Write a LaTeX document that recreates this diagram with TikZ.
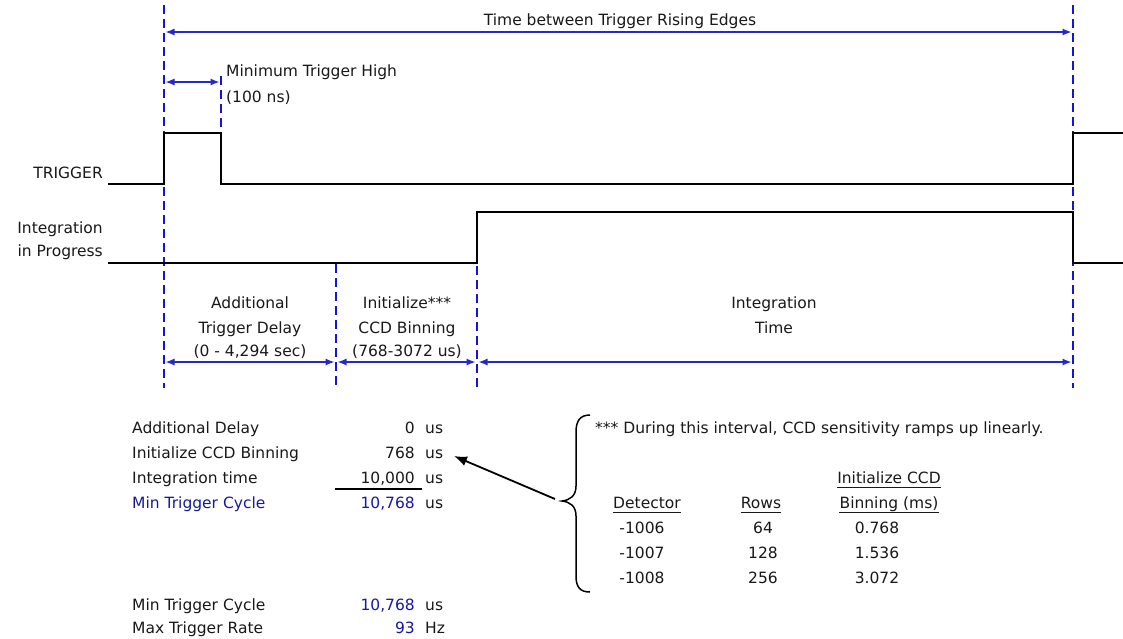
\documentclass[tikz,border=0pt]{standalone}
\usepackage{fontspec}
\setmainfont{DejaVu Sans}
\usetikzlibrary{arrows.meta}
\definecolor{dashblue}{RGB}{20,20,215}
\definecolor{dimblue}{RGB}{40,40,200}
\definecolor{txtblue}{RGB}{25,25,160}
\newcommand{\myfs}{\fontsize{15.5}{18}\selectfont}
\begin{document}
\begin{tikzpicture}[x=1pt,y=-1pt,
  sig/.style={line width=2.7pt, black, line join=miter},
  vdash/.style={dashblue, line width=2.8pt, dash pattern=on 9pt off 5pt},
  dimarrow/.style={dimblue, line width=1.3pt, shorten <=1.5pt, shorten >=1.5pt,
    {Latex[length=9pt,width=7pt]}-{Latex[length=9pt,width=7pt]}},
  lbl/.style={inner sep=0pt, anchor=base, font=\myfs, text=black!90},
  lblw/.style={lbl, anchor=base west},
  lble/.style={lbl, anchor=base east},
  bluet/.style={text=txtblue},
  ul/.style={black!90, line width=1pt}]
\useasboundingbox (0,0) rectangle (1123,638);
\fill[white] (0,0) rectangle (1123,638);

% dashed markers
\coordinate (d1t) at (164,5);   \coordinate (d1b) at (164,388);
\coordinate (d2t) at (221,76);  \coordinate (d2b) at (221,133);
\coordinate (d3t) at (336,264); \coordinate (d3b) at (336,388);
\coordinate (d4t) at (477,266); \coordinate (d4b) at (477,388);
\coordinate (d5t) at (1073,5);  \coordinate (d5b) at (1073,388);
\draw[vdash] (d1t) -- (d1b);
\draw[vdash] (d2t) -- (d2b);
\draw[vdash] (d3t) -- (d3b);
\draw[vdash] (d4t) -- (d4b);
\draw[vdash] (d5t) -- (d5b);

% signals
\coordinate (trs) at (108,184);
\coordinate (tre) at (1123,133);
\draw[sig] (trs) -- (164,184) -- (164,133) -- (221,133) -- (221,184)
  -- (1073,184) -- (1073,133) -- (tre);
\coordinate (ins) at (108,263);
\coordinate (ine) at (1123,263);
\draw[sig] (ins) -- (477,263) -- (477,212) -- (1073,212) -- (1073,263) -- (ine);

% dimension arrows
\coordinate (a1) at (164,32);  \coordinate (a2) at (1073,32);
\draw[dimarrow] (a1) -- (a2);
\coordinate (m1) at (164,82);  \coordinate (m2) at (221,82);
\draw[dimarrow] (m1) -- (m2);
\coordinate (b1) at (164,362); \coordinate (b2) at (336,362);
\coordinate (b3) at (477,362); \coordinate (b4) at (1073,362);
\draw[dimarrow] (b1) -- (b2);
\draw[dimarrow] (b2) -- (b3);
\draw[dimarrow] (b3) -- (b4);

% top labels
\node[lbl] (ttop) at (620,25) {Time between Trigger Rising Edges};
\node[lblw] (mth1) at (226,76) {Minimum Trigger High};
\node[lblw] (mth2) at (226,102) {(100 ns)};
\node[lble] (trig) at (103,178) {TRIGGER};
\node[lble] (ip1) at (103,233) {Integration};
\node[lble] (ip2) at (103,256) {in Progress};

% interval labels
\node[lbl] (ad1) at (250,308) {Additional};
\node[lbl] (ad2) at (250,333) {Trigger Delay};
\node[lbl] (ad3) at (250,356) {(0 - 4,294 sec)};
\node[lbl] (ic1) at (407,308) {Initialize***};
\node[lbl] (ic2) at (407,333) {CCD Binning};
\node[lbl] (ic3) at (407,356) {(768-3072 us)};
\node[lbl] (it1) at (774,308) {Integration};
\node[lbl] (it2) at (774,333) {Time};

% left table
\node[lblw] (l1) at (132,433) {Additional Delay};
\node[lblw] (l2) at (132,458) {Initialize CCD Binning};
\node[lblw] (l3) at (132,483) {Integration time};
\node[lblw,bluet] (l4) at (132,508) {Min Trigger Cycle};
\node[lblw] (l5) at (132,610) {Min Trigger Cycle};
\node[lblw] (l6) at (132,633) {Max Trigger Rate};
\node[lble] (v1) at (415,433) {0};
\node[lble] (v2) at (415,458) {768};
\node[lble] (v3) at (415,483) {10,000};
\node[lble,bluet] (v4) at (415,508) {10,768};
\node[lble,bluet] (v5) at (415,610) {10,768};
\node[lble,bluet] (v6) at (415,633) {93};
\node[lblw] (u1) at (425,433) {us};
\node[lblw] (u2) at (425,458) {us};
\node[lblw] (u3) at (425,483) {us};
\node[lblw] (u4) at (425,508) {us};
\node[lblw] (u5) at (425,610) {us};
\node[lblw] (u6) at (425,633) {Hz};
\coordinate (sl1) at (335,489); \coordinate (sl2) at (422,489);
\draw[black, line width=1.4pt] (sl1) -- (sl2);

% brace
\coordinate (brtop) at (590,415);
\coordinate (brtip) at (562,501);
\coordinate (brbot) at (590,592);
\draw[black, line width=1.5pt] (brtop) .. controls (580,415) and (576,421) .. (576,432)
  -- (576,486) .. controls (576,496) and (570,500) .. (brtip)
  .. controls (570,502) and (576,506) .. (576,516)
  -- (576,576) .. controls (576,587) and (580,592) .. (brbot);

% arrow to 768 us
\coordinate (arrt) at (555,499);
\coordinate (arrh) at (454,456);
\draw[black, line width=1.8pt, -{Latex[length=13pt,width=10pt]}] (arrt) -- (arrh);

% right table
\node[lblw] (note) at (595,433) {*** During this interval, CCD sensitivity ramps up linearly.};
\node[lbl] (h3a) at (889,483) {Initialize CCD};
\node[lbl] (h3b) at (889,508) {Binning (ms)};
\node[lbl] (h1) at (647,508) {Detector};
\node[lbl] (h2) at (761,508) {Rows};
\foreach \n in {h3a,h3b,h1,h2}{
  \draw[ul] ([yshift=-4pt]\n.base west) -- ([yshift=-4pt]\n.base east);
}
\node[lbl] (r11) at (642,533) {-1006};
\node[lbl] (r21) at (642,558) {-1007};
\node[lbl] (r31) at (642,583) {-1008};
\node[lbl] (r12) at (763,533) {64};
\node[lbl] (r22) at (763,558) {128};
\node[lbl] (r32) at (763,583) {256};
\node[lbl] (r13) at (877,533) {0.768};
\node[lbl] (r23) at (877,558) {1.536};
\node[lbl] (r33) at (877,583) {3.072};
\end{tikzpicture}
\end{document}
